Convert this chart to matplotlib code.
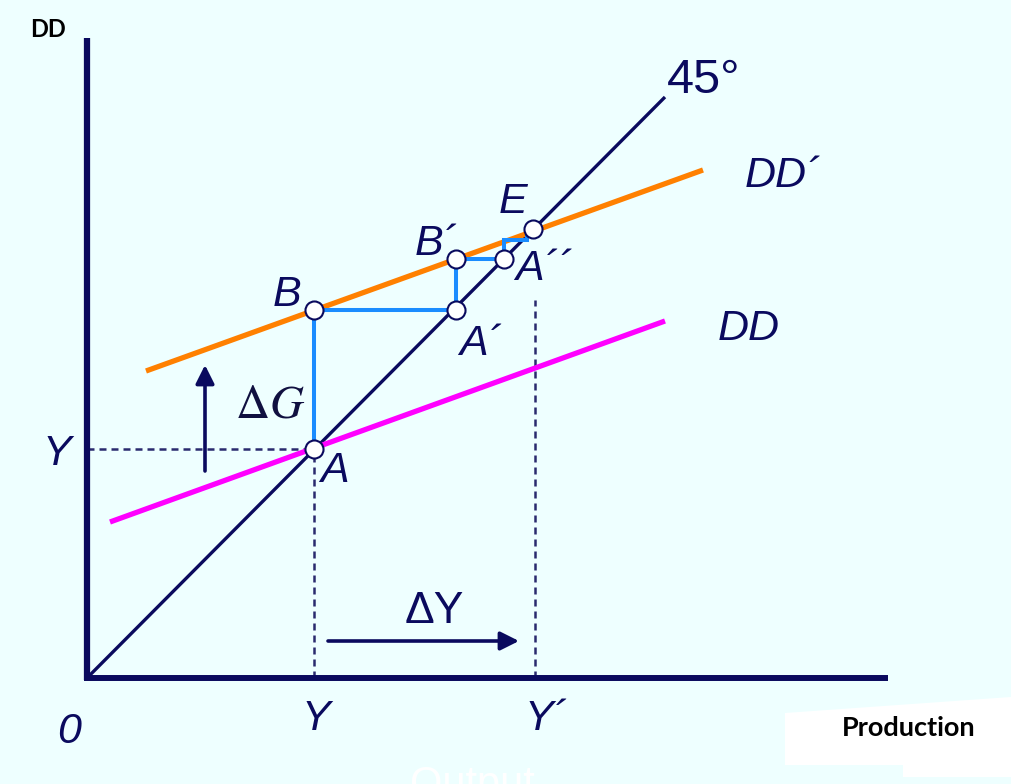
import matplotlib
matplotlib.use("Agg")
import matplotlib.pyplot as plt
from matplotlib.patches import Polygon

# ---- diagram values (units: origin at 0) ----
axis_y_top = 640
axis_x_right = 801
line45_x = [0, 578]
line45_y = [0, 581]
dd_x = [23, 578]
dd_y = [156, 357]
ddp_x = [59, 616]
ddp_y = [307, 508]
stair_x = [227, 227, 369, 369, 417, 417, 440, 440]
stair_y = [229, 368, 368, 419, 419, 438, 438, 445]
point_x = [227, 227, 369, 369, 417, 446]
point_y = [229, 368, 368, 419, 419, 449]
y0 = 227          # initial output Y
y1 = 448          # new output Y'
y0_level = 229
y1_dash_top = 378

NAVY = "#0a0a5e"
BG = "#eeffff"

plt.rcParams["mathtext.fontset"] = "stix"

fig = plt.figure(figsize=(10.11, 7.84), dpi=100)
fig.patch.set_facecolor(BG)
ax = fig.add_axes([0, 0, 1, 1])
ax.set_facecolor(BG)
ax.set_xlim(-87, 924)
ax.set_ylim(-106, 678)
ax.axis("off")

# white patch behind "Production"
patch_xy = [(698, -35), (924, -19), (924, -99), (816, -99), (816, -87), (698, -87)]
ax.add_patch(Polygon(patch_xy, closed=True, facecolor="white", edgecolor="none", zorder=1))

# dashed guides
dash = (0, (2.8, 2.0))
ax.plot([0, y0], [y0_level, y0_level], color="#2a2a6e", lw=1.8, linestyle=dash, zorder=2)
ax.plot([y0, y0], [0, y0_level], color="#2a2a6e", lw=1.8, linestyle=dash, zorder=2)
ax.plot([y1, y1], [0, y1_dash_top], color="#2a2a6e", lw=1.8, linestyle=dash, zorder=2)

# lines
ax.plot(line45_x, line45_y, color=NAVY, lw=2.4, zorder=3, solid_capstyle="butt")
ax.plot(dd_x, dd_y, color="#ff00ff", lw=3.8, zorder=3, solid_capstyle="butt")
ax.plot(ddp_x, ddp_y, color="#ff8000", lw=3.8, zorder=3, solid_capstyle="butt")
ax.plot(stair_x, stair_y, color="#1a8cff", lw=2.9, zorder=4, solid_joinstyle="miter")

# axes
ax.plot([0, 0], [-2, axis_y_top], color=NAVY, lw=4.5, zorder=5, solid_capstyle="butt")
ax.plot([-3, axis_x_right], [0, 0], color=NAVY, lw=4.3, zorder=5, solid_capstyle="butt")

# points
ax.plot(point_x, point_y, "o", ms=13, mfc="white", mec=NAVY, mew=1.5, zorder=6)

# arrows
ax.annotate("", xy=(118, 313), xytext=(118, 207),
            arrowprops=dict(arrowstyle="-|>", color=NAVY, lw=2.6, mutation_scale=28,
                            shrinkA=0, shrinkB=0), zorder=5)
ax.annotate("", xy=(432, 37), xytext=(241, 37),
            arrowprops=dict(arrowstyle="-|>", color=NAVY, lw=2.6, mutation_scale=28,
                            shrinkA=0, shrinkB=0), zorder=5)

# text
it = dict(color=NAVY, fontsize=31, family="Liberation Sans", style="italic",
          ha="left", va="baseline", zorder=7)
ax.text(580, 585, "45°", color=NAVY, fontsize=35, family="Liberation Sans",
        ha="left", va="baseline")
ax.text(658, 491, "DD´", **it)
ax.text(631, 338, "DD", **it)
ax.text(412, 465, "E", **it)
ax.text(328, 423, "B´", **it)
ax.text(428, 398, "A´´", **it)
ax.text(186, 372, "B", **it)
ax.text(372, 323, "A´", **it)
ax.text(233, 196, "A", **it)
ax.text(-44, 213, "Y", **it)
ax.text(-30, -65, "0", **it)
ax.text(215, -52, "Y", **it)
ax.text(438, -52, "Y´", **it)
ax.text(318, 55, "ΔY", color=NAVY, fontsize=32, family="Liberation Sans",
        ha="left", va="baseline")
ax.text(148, 261, r"$\Delta G$", color="#101040", fontsize=34, ha="left", va="baseline")

ax.text(-57, 641, "DD", color="black", fontsize=17, family="Lato", weight="bold",
        ha="left", va="baseline")
ax.text(755, -58, "Production", color="black", fontsize=19.5, family="Lato",
        weight="bold", ha="left", va="baseline", zorder=7)
ax.text(323, -87, "Output", color="white", fontsize=30, family="Liberation Sans",
        ha="left", va="top", zorder=1)

fig.savefig("out.png", dpi=100, facecolor=BG)
